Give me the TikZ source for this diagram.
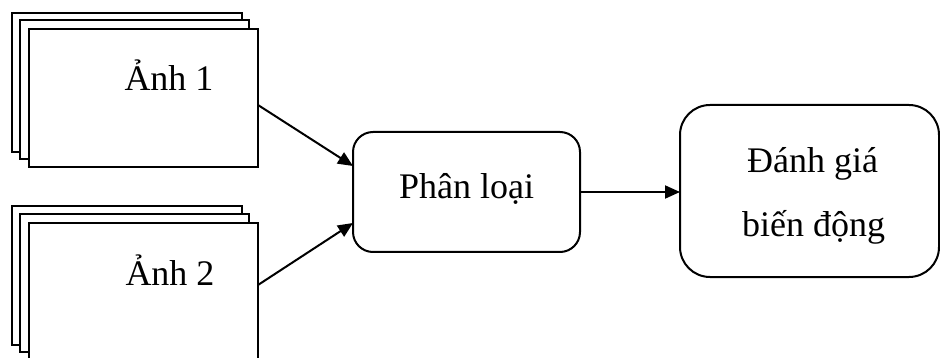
\documentclass[tikz,border=0pt]{standalone}
\usepackage{fontspec}
\setmainfont{Liberation Serif}
\usetikzlibrary{arrows.meta}

\tikzset{
  sheet/.style={draw, fill=white, line width=2pt, rectangle, anchor=north west,
    inner sep=0pt, outer sep=0pt},
  procbox/.style={draw, fill=white, line width=2pt, rectangle, anchor=north west,
    inner sep=0pt, outer sep=0pt},
  lbl/.style={anchor=base, inner sep=0pt, font=\fontsize{36pt}{40pt}\selectfont},
  flow/.style={line width=2pt, -{Triangle[length=15pt,width=13pt]}},
}

\begin{document}
\begin{tikzpicture}[x=1pt, y=-1pt]
  \clip (0,0) rectangle (940,358);
  \fill[white] (0,0) rectangle (940,358);

  % first image stack
  \node[sheet, minimum width=230pt, minimum height=139pt] (a1back) at (12,13) {};
  \node[sheet, minimum width=229pt, minimum height=139pt] (a1mid)  at (20,20) {};
  \node[sheet, minimum width=229pt, minimum height=138pt] (a1)     at (29,29) {};
  \node[lbl] (a1txt) at (169,91) {Ảnh 1};

  % second image stack
  \node[sheet, minimum width=230pt, minimum height=139pt] (a2back) at (12,206) {};
  \node[sheet, minimum width=229pt, minimum height=138pt] (a2mid)  at (20,214) {};
  \node[sheet, minimum width=229pt, minimum height=138pt] (a2)     at (29,223) {};
  \node[lbl] (a2txt) at (170,285) {Ảnh 2};

  % classification
  \node[procbox, rounded corners=20pt, minimum width=227pt, minimum height=120pt] (cls) at (353,132) {};
  \node[lbl] (clstxt) at (466.5,199) {Phân loại};

  % change assessment
  \node[procbox, rounded corners=30pt, minimum width=259pt, minimum height=172pt] (eval) at (680,105) {};
  \node[lbl] (evaltxt1) at (812.5,173) {Đánh giá};
  \node[lbl] (evaltxt2) at (813.5,237) {biến động};

  % connectors
  \draw[flow] ([yshift=-7pt]a1.east) -- ([yshift=26pt]cls.west);
  \draw[flow] ([yshift=7pt]a2.east) -- ([yshift=-31pt]cls.west);
  \draw[flow] (cls.east) -- (cls.east -| eval.west);
\end{tikzpicture}
\end{document}
